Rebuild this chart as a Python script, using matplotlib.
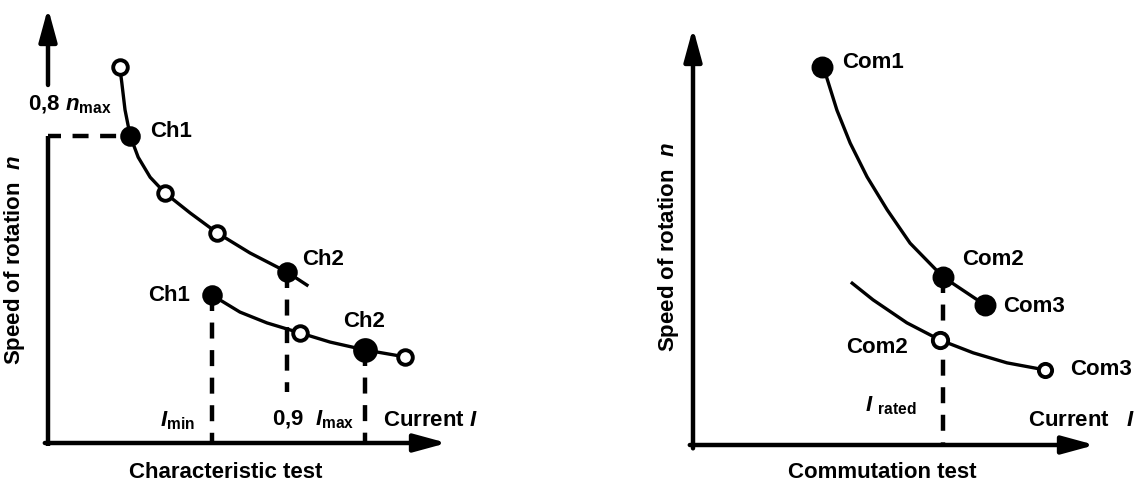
import matplotlib.pyplot as plt

plt.rcParams['font.family'] = 'Liberation Sans'
plt.rcParams['font.weight'] = 'bold'
plt.rcParams['mathtext.fontset'] = 'custom'
plt.rcParams['mathtext.rm'] = 'Liberation Sans:bold'
plt.rcParams['mathtext.it'] = 'Liberation Sans:italic:bold'
plt.rcParams['mathtext.bf'] = 'Liberation Sans:bold'

## characteristic test (arbitrary units, 0..100)
ch_up_I = [18.0, 18.5, 19.3, 20.6, 22.6, 25.6, 29.3, 35.6, 42.4, 50.6, 59.9, 64.9]
ch_up_n = [86.4, 82.8, 76.6, 70.6, 65.7, 61.1, 57.5, 52.9, 48.3, 43.7, 39.3, 36.3]
ch_lo_I = [41.1, 48.1, 54.9, 63.2, 70.7, 79.4, 89.5]
ch_lo_n = [34.0, 30.1, 27.6, 25.3, 23.2, 21.4, 19.8]
ch_up_filled = [3, 10]      # Ch1 (0,8 nmax), Ch2 (0,9 Imax)
ch_up_open = [0, 6, 8]
ch_lo_filled = [0]          # Ch1 (Imin)
ch_lo_big = [5]             # Ch2 (Imax)
ch_lo_open = [3, 6]

## commutation test
com_up_I = [32.1, 33.3, 35.8, 39.1, 43.3, 48.3, 54.0, 62.2, 72.6]
com_up_n = [90.6, 88.0, 80.3, 72.4, 64.3, 56.4, 48.4, 40.3, 33.6]
com_lo_I = [39.6, 44.8, 53.2, 61.4, 69.7, 78.1, 87.6]
com_lo_n = [38.8, 34.8, 29.3, 25.2, 22.1, 19.7, 18.0]
com_up_filled = [0, 7, 8]   # Com1, Com2, Com3
com_lo_open = [3, 6]        # Com2, Com3

W, H = 1134, 488
fig = plt.figure(figsize=(W / 100, H / 100), dpi=100)
fig.patch.set_facecolor('white')

arrow = dict(arrowstyle='-|>,head_length=1.1,head_width=0.3', lw=3.2,
             color='black', shrinkA=0, shrinkB=0, mutation_scale=18)

def panel(x0, x1, y0, y1, ygap=None):
    ax = fig.add_axes([x0 / W, (H - y0) / H, (x1 - x0) / W, (y0 - y1) / H])
    ax.set_xlim(0, 100)
    ax.set_ylim(0, 100)
    ax.axis('off')
    if ygap:
        # y axis broken around the 0,8 nmax label
        ax.plot([0, 0], [-0.8, ygap[0]], color='black', lw=3.2,
                solid_capstyle='butt', clip_on=False)
        ax.annotate('', xy=(0, 100), xytext=(0, ygap[1]), arrowprops=arrow)
    else:
        ax.annotate('', xy=(0, 100), xytext=(0, -0.8), arrowprops=arrow)
    ax.annotate('', xy=(100, 0), xytext=(-0.8, 0), arrowprops=arrow)
    return ax

def marks(ax, I, n, idx, size, fill):
    ax.plot([I[i] for i in idx], [n[i] for i in idx], 'o', ms=size,
            mfc=fill, mec='black', mew=2.8, zorder=5, clip_on=False)

dash = dict(color='black', lw=3.2, dashes=(3.6, 2.6), solid_capstyle='butt')
txt = dict(fontsize=16, fontweight='bold', va='center', clip_on=False)

## left panel
ax1 = panel(48, 447, 443, 8, ygap=(70.6, 82.3))
ax1.plot(ch_up_I, ch_up_n, color='black', lw=2.4, clip_on=False)
ax1.plot(ch_lo_I, ch_lo_n, color='black', lw=2.4, clip_on=False)
ax1.plot([ch_lo_I[0], ch_lo_I[0]], [ch_lo_n[0], 0], **dash)
ax1.plot([ch_up_I[10], ch_up_I[10]], [ch_up_n[10], 11.7], **dash)
ax1.plot([ch_lo_I[5], ch_lo_I[5]], [ch_lo_n[5], 0], **dash)
ax1.plot([-0.8, ch_up_I[3]], [ch_up_n[3], ch_up_n[3]], **dash)
marks(ax1, ch_up_I, ch_up_n, ch_up_filled, 12, 'black')
marks(ax1, ch_up_I, ch_up_n, ch_up_open, 10.5, 'white')
marks(ax1, ch_lo_I, ch_lo_n, ch_lo_filled, 12, 'black')
marks(ax1, ch_lo_I, ch_lo_n, ch_lo_big, 15, 'black')
marks(ax1, ch_lo_I, ch_lo_n, ch_lo_open, 10.5, 'white')

ax1.text(-5.0, 77.7, r'0,8 $\mathit{n}_{\mathrm{max}}$', ha='left', **txt)
ax1.text(25.6, 71.5, 'Ch1', ha='left', **txt)
ax1.text(63.7, 42.1, 'Ch2', ha='left', **txt)
ax1.text(35.6, 34.0, 'Ch1', ha='right', **txt)
ax1.text(73.9, 28.0, 'Ch2', ha='left', **txt)
ax1.text(36.8, 5.1, r'$\mathit{I}_{\mathrm{min}}$', ha='right', **txt)
ax1.text(56.1, 5.4, r'0,9  $\mathit{I}_{\mathrm{max}}$', ha='left', **txt)
ax1.text(84.0, 5.1, r'Current $\mathit{I}$', ha='left', **txt)
ax1.text(44.6, -6.7, 'Characteristic test', ha='center', **txt)
ax1.text(-8.3, 42.1, r'Speed of rotation  $\mathit{n}$', ha='center',
         rotation=90, **txt)

## right panel
ax2 = panel(693, 1095, 445, 28)
ax2.plot(com_up_I, com_up_n, color='black', lw=2.4, clip_on=False)
ax2.plot(com_lo_I, com_lo_n, color='black', lw=2.4, clip_on=False)
ax2.plot([com_up_I[7], com_up_I[7]], [com_up_n[7], 0], **dash)
marks(ax2, com_up_I, com_up_n, com_up_filled, 13, 'black')
marks(ax2, com_lo_I, com_lo_n, com_lo_open[:1], 11, 'white')
marks(ax2, com_lo_I, com_lo_n, com_lo_open[1:], 9.5, 'white')

ax2.text(37.1, 91.8, 'Com1', ha='left', **txt)
ax2.text(66.9, 44.4, 'Com2', ha='left', **txt)
ax2.text(77.1, 33.3, 'Com3', ha='left', **txt)
ax2.text(53.5, 23.5, 'Com2', ha='right', **txt)
ax2.text(93.8, 18.0, 'Com3', ha='left', **txt)
ax2.text(42.8, 9.5, r'$\mathit{I}$ $_{\mathrm{rated}}$', ha='left', **txt)
ax2.text(83.3, 5.8, r'Current   $\mathit{I}$', ha='left', **txt)
ax2.text(47.0, -6.5, 'Commutation test', ha='center', **txt)
ax2.text(-6.2, 47.5, r'Speed of rotation  $\mathit{n}$', ha='center',
         rotation=90, **txt)

plt.savefig('out.png', dpi=100)
